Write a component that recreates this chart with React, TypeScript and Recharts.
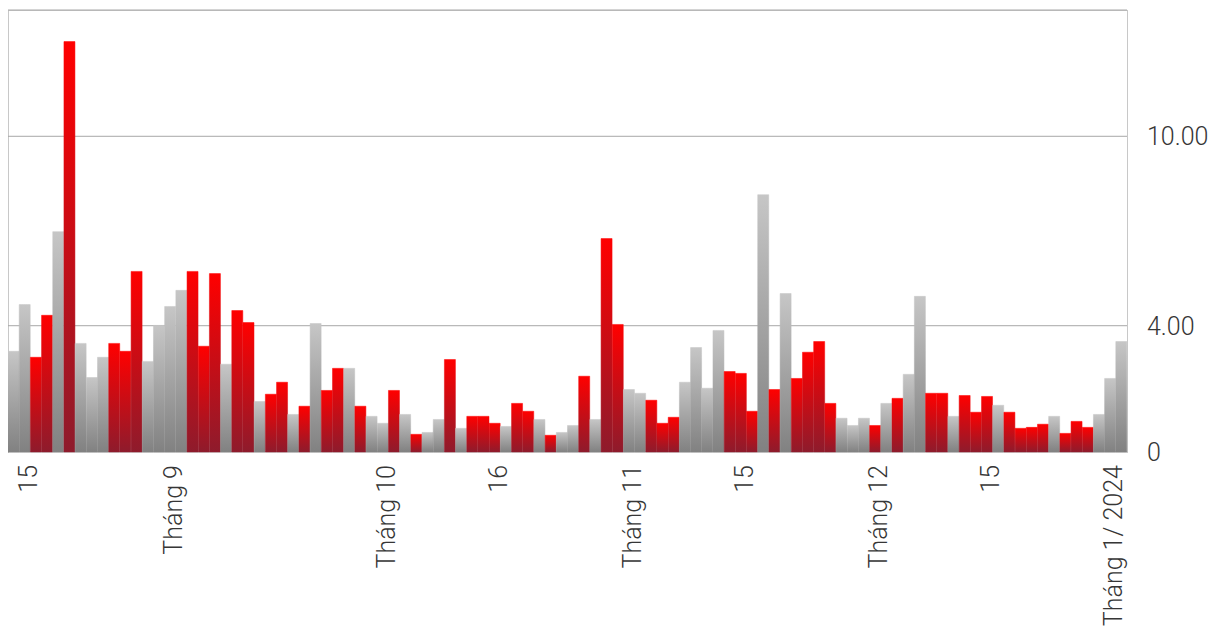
import React from "react";
import { BarChart, Bar, XAxis, YAxis, CartesianGrid, Cell } from "recharts";

// trading days, 11/8/2023 -> 2/1/2024
const days = [
  "11/8", "14/8", "15/8", "16/8", "17/8", "18/8", "21/8", "22/8", "23/8", "24/8", "25/8", "28/8", "29/8", "30/8", "31/8",
  "5/9", "6/9", "7/9", "8/9", "11/9", "12/9", "13/9", "14/9", "15/9", "18/9", "19/9", "20/9", "21/9", "22/9", "25/9", "26/9", "27/9", "28/9", "29/9",
  "2/10", "3/10", "4/10", "5/10", "6/10", "9/10", "10/10", "11/10", "12/10", "13/10", "16/10", "17/10", "18/10", "19/10", "20/10", "23/10", "24/10", "25/10", "26/10", "27/10", "30/10", "31/10",
  "1/11", "2/11", "3/11", "6/11", "7/11", "8/11", "9/11", "10/11", "13/11", "14/11", "15/11", "16/11", "17/11", "20/11", "21/11", "22/11", "23/11", "24/11", "27/11", "28/11", "29/11", "30/11",
  "1/12", "4/12", "5/12", "6/12", "7/12", "8/12", "11/12", "12/12", "13/12", "14/12", "15/12", "18/12", "19/12", "20/12", "21/12", "22/12", "25/12", "26/12", "27/12", "28/12", "29/12",
  "2/1",
];

const values = [
  3.19, 4.67, 3.0, 4.33, 6.98, 13.0, 3.44, 2.36, 3.0, 3.44, 3.19, 5.72, 2.87, 4.01, 4.61,
  5.12, 5.72, 3.35, 5.65, 2.78, 4.48, 4.1, 1.6, 1.83, 2.21, 1.19, 1.45, 4.07, 1.95, 2.65, 2.65, 1.45, 1.13, 0.91,
  1.95, 1.19, 0.56, 0.62, 1.03, 2.93, 0.75, 1.13, 1.13, 0.91, 0.81, 1.54, 1.29, 1.03, 0.53, 0.62, 0.84, 2.4, 1.03, 6.76, 4.04, 1.98,
  1.86, 1.64, 0.91, 1.1, 2.21, 3.31, 2.02, 3.85, 2.55, 2.49, 1.29, 8.15, 1.98, 5.02, 2.33, 3.16, 3.5, 1.54, 1.07, 0.84, 1.07, 0.84,
  1.54, 1.7, 2.46, 4.93, 1.86, 1.86, 1.13, 1.79, 1.26, 1.76, 1.48, 1.26, 0.75, 0.78, 0.88, 1.13, 0.59, 0.97, 0.78, 1.19, 2.33,
  3.5,
];

// r = red bar, g = grey bar
const colors = [
  "g", "g", "r", "r", "g", "r", "g", "g", "g", "r", "r", "r", "g", "g", "g",
  "g", "r", "r", "r", "g", "r", "r", "g", "r", "r", "g", "r", "g", "r", "r", "g", "r", "g", "g",
  "r", "g", "r", "g", "g", "r", "g", "r", "r", "r", "g", "r", "r", "g", "r", "g", "g", "r", "g", "r", "r", "g",
  "g", "r", "r", "r", "g", "g", "g", "g", "r", "r", "r", "g", "r", "g", "r", "r", "r", "r", "g", "g", "g", "r",
  "g", "r", "g", "g", "r", "r", "g", "r", "r", "r", "g", "r", "r", "r", "r", "g", "r", "r", "r", "g", "g",
  "g",
];

const tickLabels: Record<string, string> = {
  "15/8": "15",
  "5/9": "Tháng 9",
  "2/10": "Tháng 10",
  "16/10": "16",
  "1/11": "Tháng 11",
  "15/11": "15",
  "1/12": "Tháng 12",
  "15/12": "15",
  "2/1": "Tháng 1/ 2024",
};

const yTicks = [0, 4, 10];

const data = days.map((d, i) => ({ day: d, v: values[i], c: colors[i] }));

const font = "Roboto, 'Noto Sans', sans-serif";

function DayTick(props: any) {
  const { x, y, payload } = props;
  const label = tickLabels[payload.value];
  if (!label) return <g />;
  const ty = y + 5;
  return (
    <text
      x={x}
      y={ty}
      transform={`rotate(-90, ${x}, ${ty})`}
      textAnchor="end"
      dy={1}
      fill="#363636"
      fontSize={25}
      fontWeight={300}
      fontFamily={font}
    >
      {label}
    </text>
  );
}

export default function App() {
  return (
    <div style={{ position: "relative", width: 1210, height: 627, marginBottom: -8 }}>
      <div
        style={{
          position: "absolute",
          left: 0,
          top: 2,
          width: 1118,
          height: 442,
          borderLeft: "1px solid #c8c8c8",
          borderTop: "1px solid #c8c8c8",
          borderRight: "1px solid #c8c8c8",
        }}
      />
      <BarChart
        width={1210}
        height={627}
        data={data}
        margin={{ top: 2, right: 0, bottom: 0, left: 0 }}
        barCategoryGap={0}
        barGap={0}
      >
        <defs>
          <linearGradient id="gRed" x1="0" y1="0" x2="0" y2="1">
            <stop offset="0%" stopColor="#ff0000" />
            <stop offset="100%" stopColor="#8e1b2c" />
          </linearGradient>
          <linearGradient id="gGray" x1="0" y1="0" x2="0" y2="1">
            <stop offset="0%" stopColor="#c6c6c6" />
            <stop offset="100%" stopColor="#818181" />
          </linearGradient>
        </defs>
        <CartesianGrid vertical={false} stroke="#a8a8a8" />
        <XAxis
          dataKey="day"
          interval={0}
          height={183}
          axisLine={false}
          tickLine={false}
          tick={<DayTick />}
        />
        <YAxis
          orientation="right"
          width={91}
          type="number"
          domain={[0, 14]}
          ticks={yTicks}
          axisLine={false}
          tickLine={false}
          tickSize={6}
          tickMargin={14}
          tickFormatter={(v: number) => (v === 0 ? "0" : v.toFixed(2))}
          tick={{ fill: "#363636", fontSize: 25, fontWeight: 300, fontFamily: font }}
        />
        <Bar dataKey="v" isAnimationActive={false}>
          {data.map((d, i) => {
            const f = d.c === "r" ? "url(#gRed)" : "url(#gGray)";
            return <Cell key={i} fill={f} stroke={f} strokeWidth={0.5} />;
          })}
        </Bar>
      </BarChart>
    </div>
  );
}
